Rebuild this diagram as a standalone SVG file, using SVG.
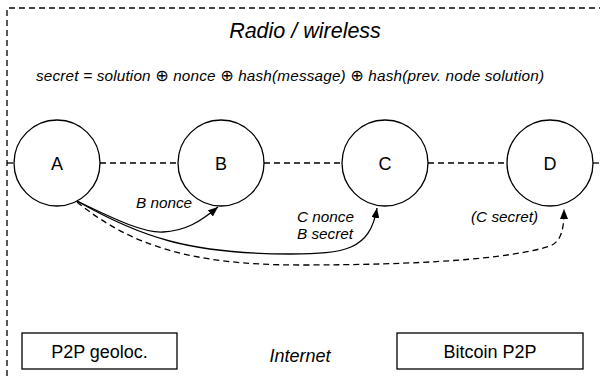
<svg xmlns="http://www.w3.org/2000/svg" width="600" height="376" viewBox="0 0 600 376">
<style>
text{font-family:"Liberation Sans",Arial,sans-serif;fill:#000}
.it{font-style:italic}
.op{font-family:"DejaVu Sans",sans-serif;font-style:normal;font-size:16px}
.node circle{fill:#fff;stroke:#000;stroke-width:1.3}
.box rect{fill:#fff;stroke:#000;stroke-width:1.3}
.dash{fill:none;stroke:#000;stroke-width:1.3;stroke-dasharray:6 4}
.edge{fill:none;stroke:#000;stroke-width:1.3}
</style>
<defs>
<marker id="arr" viewBox="0 0 10 8" refX="10" refY="4" markerWidth="10" markerHeight="8" markerUnits="userSpaceOnUse" orient="auto">
<path d="M0,0 L10,4 L0,8 z" fill="#000"/>
</marker>
</defs>
<rect width="600" height="376" fill="#fff"/>
<g id="frame">
<path class="dash" d="M7,376 V8 H600"/>
</g>
<text class="it" x="305" y="38" font-size="21.5" text-anchor="middle">Radio / wireless</text>
<text class="it" x="36" y="81" font-size="15.3" textLength="508" lengthAdjust="spacing">secret = solution <tspan class="op">⊕</tspan> nonce <tspan class="op">⊕</tspan> hash(message) <tspan class="op">⊕</tspan> hash(prev. node solution)</text>
<g id="connectors">
<path class="dash" d="M7,163 H14"/>
<path class="dash" d="M100,163 H178"/>
<path class="dash" d="M264,163 H342"/>
<path class="dash" d="M428,163 H507"/>
<path class="dash" d="M593,163 H600"/>
<path class="edge" d="M77,201 C120,222 145,233 163,232 C185,231 200,222 218,207" marker-end="url(#arr)"/>
<path class="edge" d="M77,201 C140,237 190,254 290,254 C345,254 370,250 377,208" marker-end="url(#arr)"/>
<path class="dash" d="M77,202 C130,245 190,265 300,265 C420,265 510,259 550,246 C562,241 564,228 564,209" marker-end="url(#arr)"/>
<text class="it" x="136" y="208" font-size="15.3">B nonce</text>
<text class="it" x="297" y="222" font-size="15.3">C nonce</text>
<text class="it" x="297" y="239" font-size="15.3">B secret</text>
<text class="it" x="471" y="222" font-size="15.3">(C secret)</text>
</g>
<g id="A" class="node"><circle cx="57" cy="163" r="43"/><text x="57" y="169.5" font-size="18" text-anchor="middle">A</text></g>
<g id="B" class="node"><circle cx="221" cy="163" r="43"/><text x="221" y="169.5" font-size="18" text-anchor="middle">B</text></g>
<g id="C" class="node"><circle cx="385" cy="163" r="43"/><text x="385" y="169.5" font-size="18" text-anchor="middle">C</text></g>
<g id="D" class="node"><circle cx="550" cy="163" r="43"/><text x="550" y="169.5" font-size="18" text-anchor="middle">D</text></g>
<g id="p2pgeo" class="box"><rect x="22" y="333" width="155" height="36"/><text x="99.5" y="358" font-size="18" text-anchor="middle">P2P geoloc.</text></g>
<g id="internet"><text class="it" x="300" y="362" font-size="18" text-anchor="middle">Internet</text></g>
<g id="bitcoin" class="box"><rect x="397" y="333" width="186" height="36"/><text x="490" y="358" font-size="18" text-anchor="middle">Bitcoin P2P</text></g>
</svg>
